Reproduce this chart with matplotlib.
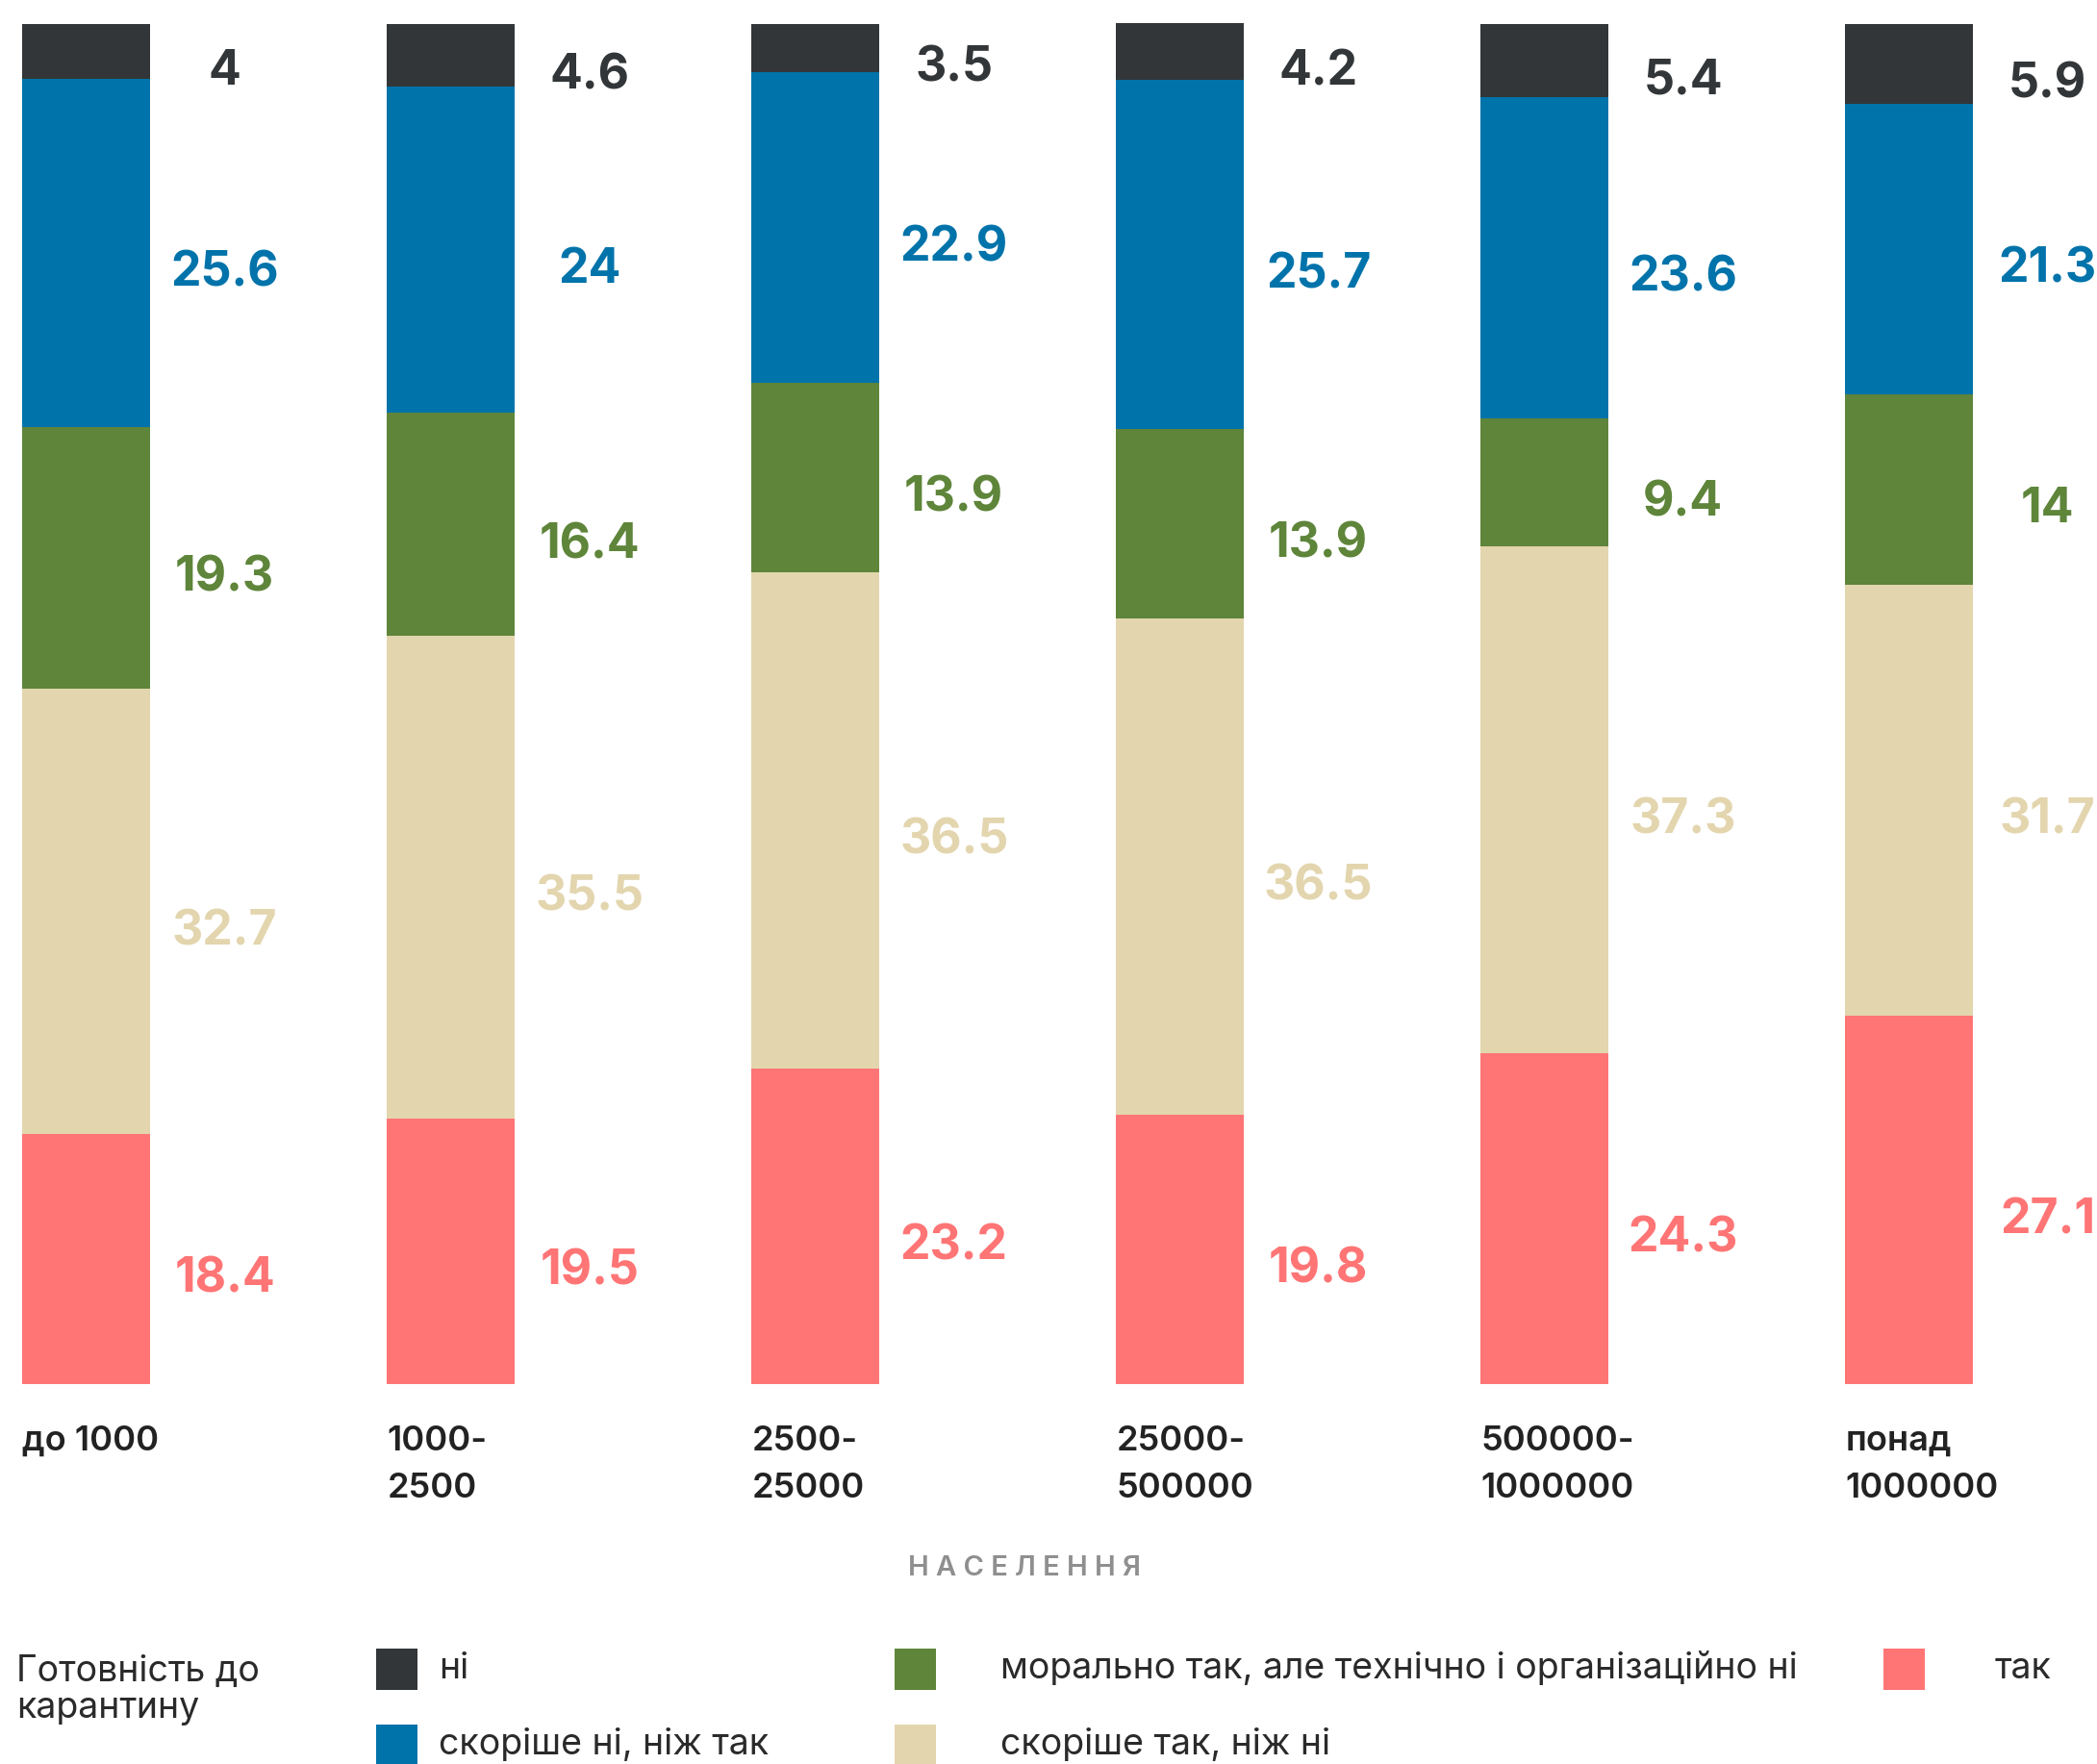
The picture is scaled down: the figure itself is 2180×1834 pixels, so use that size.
import matplotlib
matplotlib.use("Agg")
import matplotlib.pyplot as plt
import matplotlib.transforms as mtransforms
from matplotlib.patches import Rectangle

plt.rcParams['font.family'] = ['Inter', 'DejaVu Sans']

groups = ['до 1000', '1000-\n2500', '2500-\n25000', '25000-\n500000',
          '500000-\n1000000', 'понад\n1000000']

# stacked from bottom to top
tak = [18.4, 19.5, 23.2, 19.8, 24.3, 27.1]
skorishe_tak = [32.7, 35.5, 36.5, 36.5, 37.3, 31.7]
moralno_tak = [19.3, 16.4, 13.9, 13.9, 9.4, 14]
skorishe_ni = [25.6, 24, 22.9, 25.7, 23.6, 21.3]
ni = [4, 4.6, 3.5, 4.2, 5.4, 5.9]

series = [
    ('так', tak, '#ff7575'),
    ('скоріше так, ніж ні', skorishe_tak, '#e3d5ae'),
    ('морально так, але технічно і організаційно ні', moralno_tak, '#5e853a'),
    ('скоріше ні, ніж так', skorishe_ni, '#0073aa'),
    ('ні', ni, '#333638'),
]

W, H = 2180, 1834
fig = plt.figure(figsize=(W / 100, H / 100), dpi=100)
ax = fig.add_axes([0, 0, 1, 1])
ax.set_xlim(-0.2367, 5.5155)
ax.set_ylim(-27.94, 101.77)
ax.axis('off')

x = list(range(len(groups)))
bw = 0.35
bottom = [0.0] * len(groups)
for name, vals, col in series:
    ax.bar(x, vals, width=bw, bottom=bottom, color=col, linewidth=0)
    for i, v in enumerate(vals):
        mid = bottom[i] + v / 2
        ax.text(i + 0.38, mid - 1.5, f'{v:g}', color=col,
                fontsize=36, fontweight='bold', ha='center', va='center')
    bottom = [b + v for b, v in zip(bottom, vals)]

# category labels under bars
trans = mtransforms.blended_transform_factory(ax.transData, fig.transFigure)
for i, g in enumerate(groups):
    ax.text(i - bw / 2, 1 - 1482 / H, g, transform=trans, fontsize=26,
            fontweight='semibold', color='#222222', ha='left', va='top',
            linespacing=1.6)

fig.text(1065 / W, 1 - 1631 / H, '\u2009\u200a'.join('НАСЕЛЕННЯ'), fontsize=21,
         fontweight='semibold', color='#8f8f8f', ha='center', va='center')

# legend
fig.text(17 / W, 1 - 1757 / H, 'Готовність до\nкарантину', fontsize=27,
         color='#2a2a2a', ha='left', va='center', linespacing=1.1)

legend_items = [
    ('ні', '#333638', 391, 1735),
    ('скоріше ні, ніж так', '#0073aa', 391, 1814),
    ('морально так, але технічно і організаційно ні', '#5e853a', 930, 1735),
    ('скоріше так, ніж ні', '#e3d5ae', 930, 1814),
    ('так', '#ff7575', 1958, 1735),
]
text_offset = {391: 65, 930: 110, 1958: 116}
sq = 43
for label, col, px, py in legend_items:
    fig.add_artist(Rectangle((px / W, 1 - (py + sq / 2) / H), sq / W, sq / H,
                             transform=fig.transFigure, color=col, lw=0))
    fig.text((px + text_offset[px]) / W, 1 - py / H, label, fontsize=27,
             color='#2a2a2a', ha='left', va='center')

fig.savefig('out.png', dpi=100, facecolor='white')
